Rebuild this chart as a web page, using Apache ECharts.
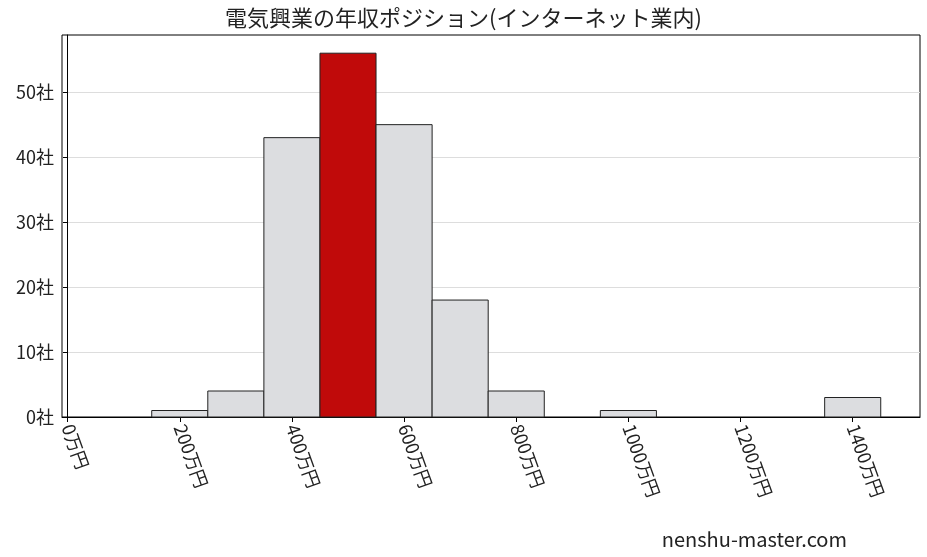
<!DOCTYPE html>
<html>
<head>
<meta charset="utf-8">
<script src="https://cdn.jsdelivr.net/npm/echarts@6/dist/echarts.min.js"></script>
<style>html,body{margin:0;padding:0;background:#fff}</style>
</head>
<body>
<div id="chart" style="width:927px;height:557px"></div>
<script>
'use strict';

// bin start, bin end (万円), company count
const binStarts = [150, 250, 350, 450, 550, 650, 750, 950, 1350];
const binEnds   = [250, 350, 450, 550, 650, 750, 850, 1050, 1450];
const counts    = [1, 4, 43, 56, 45, 18, 4, 1, 3];
const highlightIndex = 3;
const xTicks = [0, 200, 400, 600, 800, 1000, 1200, 1400];
const yTicks = [0, 10, 20, 30, 40, 50];

const font = '"Noto Sans CJK JP", sans-serif';
const chart = echarts.init(document.getElementById('chart'));

const data = counts.map((c, i) => [binStarts[i], binEnds[i], c, i]);

const option = {
    animation: false,
    title: {
        text: '電気興業の年収ポジション(インターネット業内)',
        left: 'center', top: 2,
        textStyle: { fontFamily: font, fontSize: 22, fontWeight: 'normal', color: '#222' }
    },
    graphic: [{
        type: 'text', right: 80, bottom: 8,
        style: { text: 'nenshu-master.com', font: '20px ' + font, fill: '#222' }
    }],
    grid: { left: 62, right: 7, top: 35, bottom: 140 },
    xAxis: {
        type: 'value', min: -10, max: 1520,
        axisLine: { show: true, onZero: false, lineStyle: { color: '#000' } },
        axisTick: { show: true, customValues: xTicks, length: 5, lineStyle: { color: '#000' } },
        axisLabel: {
            customValues: xTicks, rotate: -70, fontFamily: font, fontSize: 18, color: '#222',
            formatter: v => v + '万円', margin: 8
        },
        splitLine: { show: false }
    },
    yAxis: {
        type: 'value', min: 0, max: 58.8,
        axisLine: { show: true, lineStyle: { color: '#000' } },
        axisTick: { show: true, customValues: yTicks, length: 5, lineStyle: { color: '#000' } },
        axisLabel: { customValues: yTicks, fontFamily: font, fontSize: 18, color: '#222', formatter: v => v + '社' },
        splitLine: { show: true, lineStyle: { color: '#ddd' } }
    },
    series: [{
        type: 'custom',
        data: data,
        encode: { x: [0, 1], y: 2 },
        renderItem: function (params, api) {
            const p0 = api.coord([api.value(0), api.value(2)]);
            const p1 = api.coord([api.value(1), 0]);
            const hi = api.value(3) === highlightIndex;
            return {
                type: 'rect',
                shape: { x: p0[0], y: p0[1], width: p1[0] - p0[0], height: p1[1] - p0[1] },
                style: { fill: hi ? '#c00a0a' : '#dcdde0', stroke: '#222', lineWidth: 1 }
            };
        }
    }]
};

chart.setOption(option);
// frame on top/right
chart.setOption({
    graphic: option.graphic.concat([{
        type: 'rect', shape: { x: 62, y: 35, width: 858, height: 382 },
        style: { fill: 'none', stroke: '#000', lineWidth: 1 }, silent: true
    }])
});
</script>
</body>
</html>
